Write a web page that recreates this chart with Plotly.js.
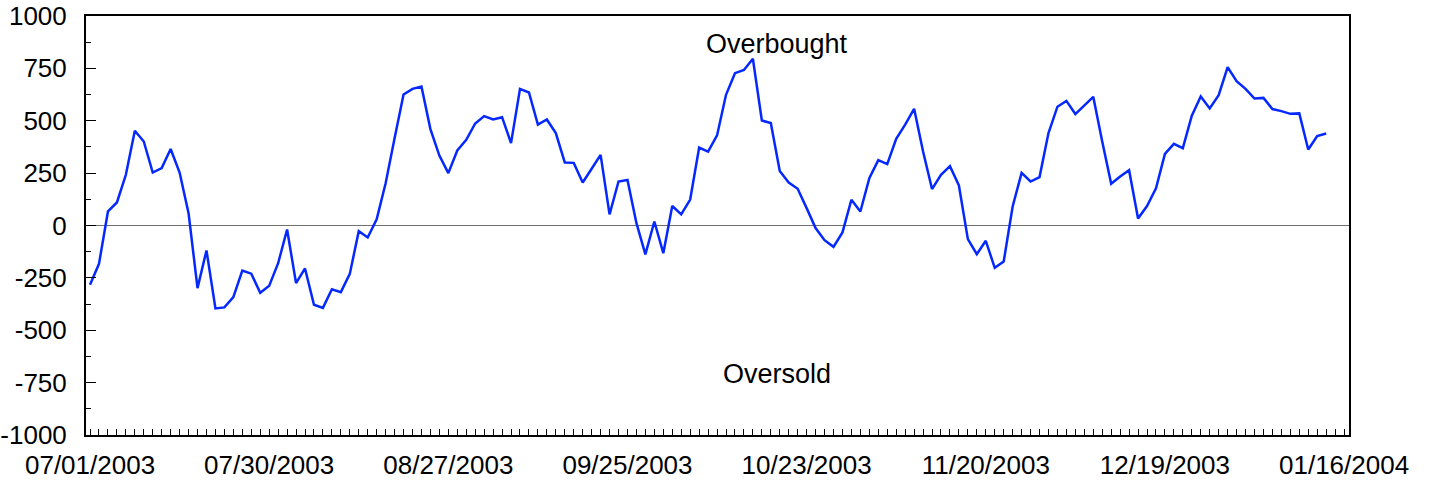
<!DOCTYPE html>
<html>
<head>
<meta charset="utf-8">
<script src="https://cdn.plot.ly/plotly-3.0.1.min.js"></script>
<style>
  html, body { margin: 0; padding: 0; background: #fff; }
  #chart { width: 1429px; height: 480px; }
</style>
</head>
<body>
<div id="chart"></div>
<script>
// Oscillator values, one per trading day starting 07/01/2003
const oscValues = [
  -283, -183, 67, 110, 242, 452, 401, 253, 274, 365,
  253, 59, -299, -119, -396, -391, -342, -215, -230, -321,
  -288, -180, -19, -275, -205, -378, -393, -304, -318, -231,
  -27, -57, 30, 202, 417, 625, 652, 663, 460, 334,
  250, 358, 409, 487, 522, 506, 517, 393, 652, 635,
  482, 506, 441, 301, 299, 205, 271, 337, 53, 210,
  217, 11, -138, 19, -132, 93, 53, 124, 372, 353,
  430, 624, 727, 742, 796, 501, 489, 260, 205, 175,
  83, -12, -70, -102, -33, 123, 67, 226, 312, 293,
  414, 481, 557, 353, 174, 242, 283, 191, -65, -137,
  -73, -202, -172, 91, 251, 210, 231, 441, 567, 595,
  532, 571, 614, 401, 199, 234, 264, 33, 93, 177,
  342, 390, 369, 524, 616, 559, 622, 756, 689, 652,
  606, 609, 556, 546, 533, 535, 363, 427, 439
];
// Date labels shown on the axis (every 20 trading days)
const tickLabels = ['07/01/2003', '07/30/2003', '08/27/2003', '09/25/2003',
                    '10/23/2003', '11/20/2003', '12/19/2003', '01/16/2004'];
const tickIndex = [0, 20, 40, 60, 80, 100, 120, 140];
const yTicks = [-1000, -750, -500, -250, 0, 250, 500, 750, 1000];
const zoneLabels = ['Overbought', 'Oversold'];
const zoneLevels = [865, -710];

const xIdx = oscValues.map((v, i) => i);
const FONT = 'Liberation Sans, Arial, sans-serif';

const trace = {
  x: xIdx,
  y: oscValues,
  type: 'scatter',
  mode: 'lines',
  line: { color: 'rgb(5,40,255)', width: 2.5 },
  hoverinfo: 'x+y'
};

const layout = {
  width: 1429,
  height: 480,
  margin: { l: 86, r: 80, t: 16, b: 45, pad: 0 },
  paper_bgcolor: '#ffffff',
  plot_bgcolor: '#ffffff',
  showlegend: false,
  font: { family: FONT, size: 26, color: '#000' },
  xaxis: {
    range: [-0.45, 140.55],
    tickmode: 'array',
    tickvals: tickIndex,
    ticktext: tickLabels,
    ticks: 'inside',
    ticklen: 6,
    tickwidth: 1,
    tickcolor: '#000',
    showline: true,
    linecolor: '#000',
    linewidth: 2,
    mirror: true,
    showgrid: false,
    zeroline: false,
    ticklabelstandoff: 6,
    tickfont: { family: FONT, size: 26, color: '#000' },
    minor: { dtick: 1, tick0: 0, ticks: 'inside', ticklen: 6, tickwidth: 1, tickcolor: '#000', showgrid: false }
  },
  yaxis: {
    range: [-1000, 1000],
    tickmode: 'array',
    tickvals: yTicks,
    ticktext: yTicks.map(String),
    ticks: 'inside',
    ticklen: 10,
    tickwidth: 1,
    tickcolor: '#000',
    showline: true,
    linecolor: '#000',
    linewidth: 2,
    mirror: true,
    showgrid: false,
    zeroline: true,
    zerolinecolor: '#707070',
    zerolinewidth: 1,
    ticklabelstandoff: 12,
    tickfont: { family: FONT, size: 26, color: '#000' },
    minor: { dtick: 125, tick0: 0, ticks: 'inside', ticklen: 5, tickwidth: 1, tickcolor: '#000', showgrid: false }
  },
  annotations: zoneLabels.map((t, k) => ({
    text: t,
    xref: 'paper',
    yref: 'y',
    x: 0.547,
    y: zoneLevels[k],
    xanchor: 'center',
    yanchor: 'middle',
    showarrow: false,
    font: { family: FONT, size: 27, color: '#000' }
  }))
};

Plotly.newPlot('chart', [trace], layout, { displayModeBar: false, staticPlot: true });
</script>
</body>
</html>
